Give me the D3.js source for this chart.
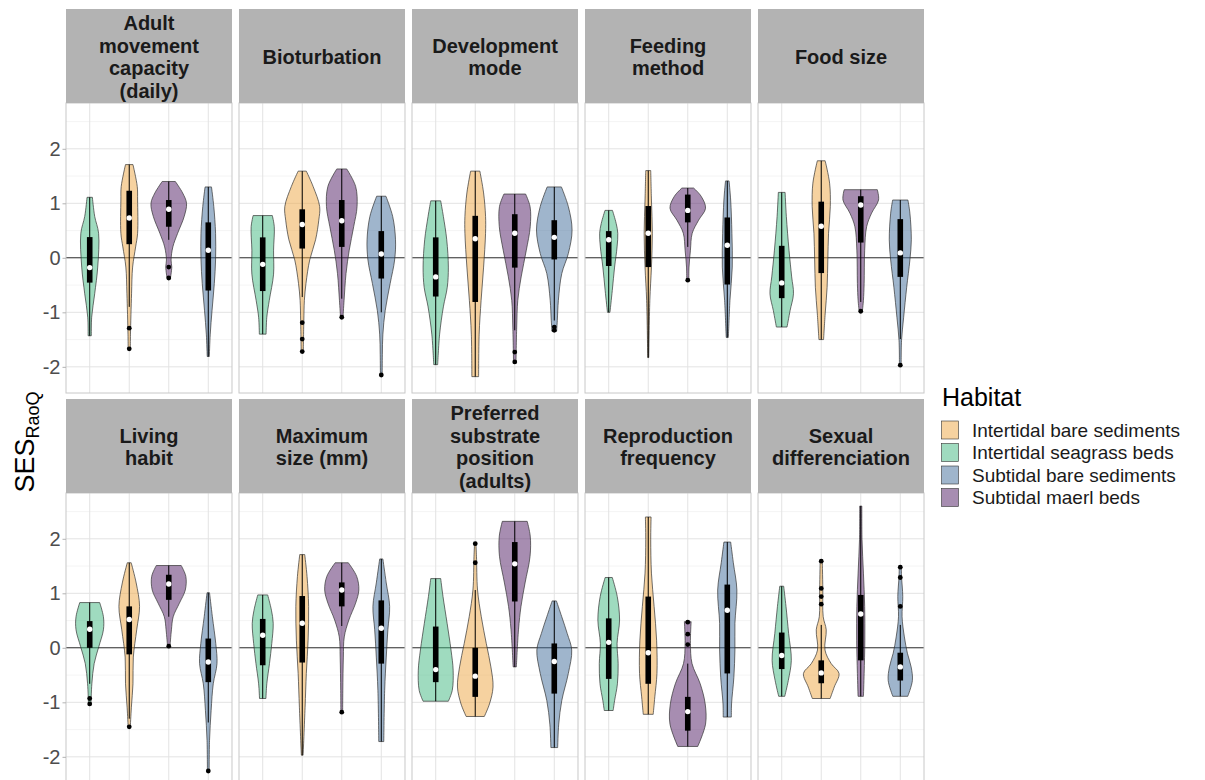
<!DOCTYPE html>
<html><head><meta charset="utf-8">
<script src="https://cdn.jsdelivr.net/npm/d3@7"></script>
<style>
body{margin:0;background:#fff;}
text{font-family:"Liberation Sans",Arial,Helvetica,sans-serif;}
</style>
</head><body>
<svg id="chart" width="1205" height="780"></svg>
<script>
// ---------------- DATA ----------------
const habitats = ["Intertidal bare sediments","Intertidal seagrass beds","Subtidal bare sediments","Subtidal maerl beds"]; // legend order
const plotOrder = ["Intertidal seagrass beds","Intertidal bare sediments","Subtidal maerl beds","Subtidal bare sediments"]; // x order
const habitatColors = ["#EDA541","#3FB77F","#3F6B99","#4F1B63"]; // drawn at 50% opacity
const traitLabels = [
  ["Adult","movement","capacity","(daily)"],
  ["Bioturbation"],
  ["Development","mode"],
  ["Feeding","method"],
  ["Food size"],
  ["Living","habit"],
  ["Maximum","size (mm)"],
  ["Preferred","substrate","position","(adults)"],
  ["Reproduction","frequency"],
  ["Sexual","differenciation"]
];
const yTicks = [-2,-1,0,1,2];
const yTickLabels = ["-2","-1","0","1","2"];
const yMinorTicks = [-1.5,-0.5,0.5,1.5,2.5];
const yDomain = [-2.48, 2.84];

// shape: [value, relative density width] from top to bottom
// box: [lower whisker, Q1, median, Q3, upper whisker]; out: outliers
const adultMovement = [
 {habitat:"Intertidal seagrass beds", shape:[[1.11,0.15],[0.76,0.28],[0.45,0.50],[-0.17,0.45],[-0.66,0.28],[-1.09,0.11],[-1.43,0.09]], box:[-1.43,-0.455,-0.18,0.38,1.11], out:[]},
 {habitat:"Intertidal bare sediments", shape:[[1.71,0.21],[1.31,0.45],[1.06,0.47],[0.45,0.47],[0.2,0.36],[-0.17,0.19],[-0.66,0.13],[-1.4,0.07],[-1.67,0.06]], box:[-0.9,0.25,0.73,1.23,1.71], out:[-1.29,-1.67]},
 {habitat:"Subtidal maerl beds", shape:[[1.40,0.37],[1.19,0.78],[1.0,1.0],[0.76,0.87],[0.45,0.5],[0.2,0.23],[-0.04,0.13],[-0.17,0.17],[-0.38,0.09]], box:[0.33,0.57,0.89,1.06,1.40], out:[-0.17,-0.37]},
 {habitat:"Subtidal bare sediments", shape:[[1.30,0.18],[0.94,0.31],[0.45,0.41],[-0.04,0.41],[-0.47,0.34],[-0.97,0.21],[-1.4,0.11],[-1.81,0.06]], box:[-1.81,-0.6,0.14,0.65,1.30], out:[]}
];
const bioturbation = [
 {habitat:"Intertidal seagrass beds", shape:[[0.775,0.54],[0.57,0.65],[0.14,0.61],[-0.3,0.61],[-0.78,0.37],[-1.09,0.23],[-1.40,0.19]], box:[-1.40,-0.61,-0.12,0.375,0.775], out:[]},
 {habitat:"Intertidal bare sediments", shape:[[1.59,0.23],[1.31,0.61],[0.94,0.98],[0.69,0.93],[0.33,0.75],[-0.04,0.42],[-0.47,0.21],[-0.78,0.12],[-1.15,0.09],[-1.72,0.06]], box:[-0.72,0.17,0.61,0.89,1.59], out:[-1.19,-1.49,-1.72]},
 {habitat:"Subtidal maerl beds", shape:[[1.63,0.28],[1.31,0.78],[0.94,0.86],[0.57,0.67],[0.14,0.42],[-0.29,0.24],[-0.78,0.13],[-1.09,0.07]], box:[-0.75,0.2,0.68,1.06,1.63], out:[-1.09]},
 {habitat:"Subtidal bare sediments", shape:[[1.13,0.26],[0.76,0.64],[0.33,0.8],[-0.04,0.75],[-0.47,0.5],[-0.97,0.22],[-1.4,0.09],[-1.77,0.06],[-2.15,0.05]], box:[-1.0,-0.38,0.07,0.49,1.13], out:[-2.15]}
];
const developmentMode = [
 {habitat:"Intertidal seagrass beds", shape:[[1.045,0.28],[0.76,0.43],[0.33,0.62],[-0.17,0.71],[-0.54,0.65],[-0.9,0.43],[-1.4,0.22],[-1.96,0.11]], box:[-1.96,-0.71,-0.35,0.375,1.045], out:[]},
 {habitat:"Intertidal bare sediments", shape:[[1.59,0.26],[1.19,0.47],[0.76,0.58],[0.45,0.58],[-0.17,0.47],[-0.78,0.33],[-1.4,0.22],[-2.18,0.19]], box:[-2.18,-0.81,0.35,0.77,1.59], out:[]},
 {habitat:"Subtidal maerl beds", shape:[[1.17,0.61],[0.94,0.86],[0.57,0.87],[0.14,0.65],[-0.35,0.36],[-0.78,0.17],[-1.27,0.11],[-1.91,0.07]], box:[-1.33,-0.18,0.45,0.8,1.17], out:[-1.73,-1.91]},
 {habitat:"Subtidal bare sediments", shape:[[1.30,0.4],[0.94,0.79],[0.51,1.0],[0.08,0.79],[-0.29,0.42],[-0.78,0.23],[-1.15,0.17],[-1.35,0.13]], box:[-1.15,-0.03,0.375,0.69,1.30], out:[-1.27,-1.33]}
];
const feedingMethod = [
 {habitat:"Intertidal seagrass beds", shape:[[0.87,0.21],[0.63,0.42],[0.45,0.51],[0.2,0.47],[-0.17,0.33],[-0.6,0.2],[-1.0,0.07]], box:[-1.0,-0.15,0.33,0.49,0.87], out:[]},
 {habitat:"Intertidal bare sediments", shape:[[1.6,0.14],[1.06,0.18],[0.45,0.23],[-0.17,0.18],[-0.78,0.09],[-1.83,0.03]], box:[-1.83,-0.17,0.45,0.95,1.6], out:[]},
 {habitat:"Subtidal maerl beds", shape:[[1.28,0.33],[1.13,0.75],[0.91,1.0],[0.69,0.61],[0.45,0.25],[0.14,0.15],[-0.17,0.07],[-0.41,0.06]], box:[0.2,0.65,0.87,1.16,1.28], out:[-0.41]},
 {habitat:"Subtidal bare sediments", shape:[[1.41,0.1],[1.06,0.19],[0.45,0.26],[-0.17,0.28],[-0.78,0.15],[-1.46,0.06]], box:[-1.46,-0.49,0.23,0.74,1.41], out:[]}
];
const foodSize = [
 {habitat:"Intertidal seagrass beds", shape:[[1.2,0.19],[0.76,0.26],[0.14,0.41],[-0.35,0.56],[-0.66,0.66],[-0.97,0.47],[-1.27,0.3]], box:[-1.27,-0.74,-0.46,0.22,1.2], out:[]},
 {habitat:"Intertidal bare sediments", shape:[[1.78,0.22],[1.37,0.47],[0.94,0.51],[0.45,0.41],[-0.04,0.37],[-0.54,0.33],[-1.03,0.22],[-1.5,0.13]], box:[-1.5,-0.28,0.58,1.03,1.78], out:[]},
 {habitat:"Subtidal maerl beds", shape:[[1.25,0.93],[1.06,1.0],[0.82,0.61],[0.57,0.33],[0.14,0.22],[-0.47,0.19],[-0.78,0.15],[-0.98,0.09]], box:[-0.81,0.28,0.97,1.13,1.25], out:[-0.98]},
 {habitat:"Subtidal bare sediments", shape:[[1.06,0.43],[0.82,0.54],[0.33,0.62],[-0.04,0.54],[-0.54,0.36],[-1.09,0.19],[-1.52,0.07],[-1.97,0.05]], box:[-1.49,-0.35,0.09,0.71,1.06], out:[-1.97]}
];
const livingHabit = [
 {habitat:"Intertidal seagrass beds", shape:[[0.83,0.56],[0.57,0.77],[0.33,0.77],[0.02,0.51],[-0.29,0.25],[-0.66,0.12],[-1.03,0.07]], box:[-0.66,0.0,0.34,0.49,0.83], out:[-0.93,-1.03]},
 {habitat:"Intertidal bare sediments", shape:[[1.56,0.11],[1.19,0.39],[0.76,0.58],[0.33,0.42],[-0.17,0.23],[-0.66,0.21],[-1.09,0.12],[-1.45,0.06]], box:[-1.3,-0.12,0.52,0.76,1.56], out:[-1.45]},
 {habitat:"Subtidal maerl beds", shape:[[1.51,0.7],[1.31,0.96],[1.06,0.93],[0.82,0.6],[0.57,0.25],[0.33,0.15],[0.03,0.07]], box:[0.57,0.88,1.17,1.34,1.51], out:[0.03]},
 {habitat:"Subtidal bare sediments", shape:[[1.01,0.07],[0.57,0.23],[0.08,0.42],[-0.29,0.49],[-0.66,0.28],[-1.15,0.16],[-1.7,0.07],[-2.26,0.05]], box:[-1.37,-0.63,-0.26,0.17,1.01], out:[-2.26]}
];
const maximumSize = [
 {habitat:"Intertidal seagrass beds", shape:[[0.97,0.28],[0.69,0.49],[0.45,0.59],[0.08,0.51],[-0.29,0.38],[-0.66,0.23],[-0.93,0.18]], box:[-0.93,-0.32,0.23,0.53,0.97], out:[]},
 {habitat:"Intertidal bare sediments", shape:[[1.71,0.14],[1.31,0.27],[0.76,0.36],[0.14,0.33],[-0.47,0.23],[-1.09,0.16],[-1.97,0.05]], box:[-1.97,-0.27,0.45,0.95,1.71], out:[]},
 {habitat:"Subtidal maerl beds", shape:[[1.56,0.37],[1.31,0.84],[1.06,0.96],[0.82,0.78],[0.51,0.4],[0.2,0.14],[-0.17,0.09],[-0.78,0.06],[-1.18,0.05]], box:[0.4,0.76,1.06,1.2,1.56], out:[-1.18]},
 {habitat:"Subtidal bare sediments", shape:[[1.63,0.09],[1.19,0.28],[0.76,0.47],[0.33,0.37],[-0.17,0.28],[-0.78,0.19],[-1.72,0.14]], box:[-1.72,-0.29,0.36,0.87,1.63], out:[]}
];
const substratePosition = [
 {habitat:"Intertidal seagrass beds", shape:[[1.27,0.28],[0.94,0.41],[0.45,0.64],[-0.04,0.86],[-0.41,0.98],[-0.78,0.93],[-0.98,0.71]], box:[-0.98,-0.63,-0.4,0.39,1.27], out:[]},
 {habitat:"Intertidal bare sediments", shape:[[1.91,0.04],[1.68,0.07],[1.06,0.13],[0.57,0.34],[0.08,0.62],[-0.35,0.88],[-0.72,1.0],[-1.03,0.8],[-1.26,0.51]], box:[-1.26,-0.9,-0.52,0.0,1.06], out:[1.56,1.91]},
 {habitat:"Subtidal maerl beds", shape:[[2.32,0.7],[2.05,0.87],[1.68,0.86],[1.19,0.58],[0.76,0.35],[0.33,0.21],[-0.35,0.09]], box:[-0.35,0.85,1.54,1.94,2.32], out:[]},
 {habitat:"Subtidal bare sediments", shape:[[0.86,0.12],[0.57,0.42],[0.26,0.73],[-0.04,0.98],[-0.47,0.79],[-0.97,0.42],[-1.4,0.25],[-1.83,0.19]], box:[-1.83,-0.84,-0.25,0.08,0.86], out:[]}
];
const reproductionFrequency = [
 {habitat:"Intertidal seagrass beds", shape:[[1.29,0.2],[0.94,0.48],[0.51,0.61],[0.08,0.47],[-0.29,0.53],[-0.66,0.49],[-0.97,0.33],[-1.15,0.25]], box:[-1.15,-0.57,0.1,0.54,1.29], out:[]},
 {habitat:"Intertidal bare sediments", shape:[[2.4,0.16],[1.99,0.14],[1.37,0.18],[0.76,0.33],[0.14,0.47],[-0.47,0.49],[-0.9,0.37],[-1.22,0.28]], box:[-1.22,-0.66,-0.09,0.94,2.4], out:[]},
 {habitat:"Subtidal maerl beds", shape:[[0.48,0.19],[0.08,0.15],[-0.29,0.24],[-0.66,0.7],[-1.03,0.98],[-1.4,1.0],[-1.81,0.56]], box:[-1.81,-1.52,-1.17,-0.9,-0.29], out:[0.47,0.25,0.06]},
 {habitat:"Subtidal bare sediments", shape:[[1.94,0.19],[1.56,0.34],[1.06,0.54],[0.45,0.43],[-0.04,0.43],[-0.54,0.37],[-1.03,0.24],[-1.27,0.23]], box:[-1.27,-0.47,0.69,1.16,1.94], out:[]}
];
const sexualDifferenciation = [
 {habitat:"Intertidal seagrass beds", shape:[[1.13,0.11],[0.76,0.24],[0.26,0.39],[-0.23,0.54],[-0.6,0.37],[-0.89,0.17]], box:[-0.89,-0.39,-0.14,0.28,1.13], out:[]},
 {habitat:"Intertidal bare sediments", shape:[[1.6,0.06],[1.43,0.07],[1.06,0.09],[0.57,0.11],[0.33,0.28],[-0.04,0.21],[-0.29,0.56],[-0.47,1.0],[-0.72,0.73],[-0.93,0.5]], box:[-0.93,-0.65,-0.46,-0.23,0.42], out:[1.59,1.09,0.94,0.8]},
 {habitat:"Subtidal maerl beds", shape:[[2.6,0.06],[1.99,0.07],[1.37,0.15],[0.76,0.22],[0.14,0.23],[-0.47,0.19],[-0.89,0.15]], box:[-0.89,-0.23,0.62,0.97,2.6], out:[]},
 {habitat:"Subtidal bare sediments", shape:[[1.48,0.06],[1.31,0.07],[0.94,0.14],[0.57,0.1],[0.2,0.23],[-0.1,0.4],[-0.35,0.61],[-0.6,0.68],[-0.89,0.42]], box:[-0.89,-0.6,-0.35,-0.09,0.42], out:[1.48,1.29,0.76]}
];
const traitData = [adultMovement, bioturbation, developmentMode, feedingMethod, foodSize,
                   livingHabit, maximumSize, substratePosition, reproductionFrequency, sexualDifferenciation];

// ---------------- DRAW ----------------
const svg = d3.select("#chart");
const color = d3.scaleOrdinal().domain(habitats).range(habitatColors);

const colScale = d3.scaleBand().domain(d3.range(5)).range([66, 924]).paddingInner(0.0405);
const rowStripTop = [9, 399];
const stripH = 94, panelH = 290;
const pw = colScale.bandwidth();

traitData.forEach((violins, i) => {
  const col = i % 5, row = Math.floor(i / 5);
  const x0 = colScale(col);
  const stripTop = rowStripTop[row];
  const pTop = stripTop + stripH;
  const y = d3.scaleLinear().domain(yDomain).range([pTop + panelH, pTop]);
  const x = d3.scalePoint().domain(plotOrder).range([x0, x0 + pw]).padding(0.6);
  const halfW = d3.scaleLinear().domain([0, 1]).range([0, 0.45 * x.step()]);

  const g = svg.append("g");
  g.append("rect").attr("x", x0).attr("y", pTop).attr("width", pw).attr("height", panelH).attr("fill", "#fff");
  // minor grid
  g.selectAll(".ymin").data(yMinorTicks.filter(v => v >= yDomain[0] && v <= yDomain[1])).join("line")
    .attr("x1", x0).attr("x2", x0 + pw).attr("y1", d => y(d)).attr("y2", d => y(d))
    .attr("stroke", "#f1f1f1").attr("stroke-width", 0.8);
  // major grid
  g.selectAll(".ymaj").data(yTicks).join("line")
    .attr("x1", x0).attr("x2", x0 + pw).attr("y1", d => y(d)).attr("y2", d => y(d))
    .attr("stroke", "#e3e3e3").attr("stroke-width", 1);
  g.selectAll(".xmaj").data(plotOrder).join("line")
    .attr("x1", d => x(d)).attr("x2", d => x(d)).attr("y1", pTop).attr("y2", pTop + panelH)
    .attr("stroke", "#e3e3e3").attr("stroke-width", 1);
  // zero line
  g.append("line").attr("x1", x0).attr("x2", x0 + pw).attr("y1", y(0)).attr("y2", y(0))
    .attr("stroke", "#333").attr("stroke-width", 1.1);

  violins.forEach(v => {
    const cx = x(v.habitat);
    const area = d3.area()
      .y(d => y(d[0]))
      .x0(d => cx - halfW(d[1]))
      .x1(d => cx + halfW(d[1]))
      .curve(d3.curveCatmullRom.alpha(0.5));
    g.append("path").attr("d", area(v.shape))
      .attr("fill", color(v.habitat)).attr("fill-opacity", 0.5)
      .attr("stroke", "#333").attr("stroke-width", 0.7);
    const [lo, q1, med, q3, hi] = v.box;
    g.append("line").attr("x1", cx).attr("x2", cx).attr("y1", y(hi)).attr("y2", y(lo))
      .attr("stroke", "#000").attr("stroke-width", 1);
    g.append("rect").attr("x", cx - 2.8).attr("width", 5.6)
      .attr("y", y(q3)).attr("height", y(q1) - y(q3)).attr("fill", "#000");
    g.selectAll(null).data(v.out).join("circle")
      .attr("cx", cx).attr("cy", d => y(d)).attr("r", 2.4).attr("fill", "#000");
    g.append("circle").attr("cx", cx).attr("cy", y(med)).attr("r", 2.7).attr("fill", "#fff");
  });

  // panel border
  g.append("rect").attr("x", x0).attr("y", pTop).attr("width", pw).attr("height", panelH)
    .attr("fill", "none").attr("stroke", "#c8c8c8").attr("stroke-width", 1);
  // strip
  g.append("rect").attr("x", x0).attr("y", stripTop).attr("width", pw).attr("height", stripH)
    .attr("fill", "#b3b3b3");
  const lines = traitLabels[i];
  const lh = 22.4;
  const cy = stripTop + stripH / 2 + 1;
  g.append("text").attr("x", x0 + pw / 2).attr("text-anchor", "middle")
    .attr("font-size", 20).attr("font-weight", "bold").attr("fill", "#1a1a1a")
    .selectAll("tspan").data(lines).join("tspan")
    .attr("x", x0 + pw / 2)
    .attr("y", (d, k) => cy + (k - (lines.length - 1) / 2) * lh)
    .attr("dominant-baseline", "central")
    .text(d => d);

  // y axis on first column
  if (col === 0) {
    const ax = svg.append("g").attr("transform", `translate(${x0},0)`)
      .call(d3.axisLeft(y).tickValues(yTicks).tickSize(3.5).tickPadding(2)
        .tickFormat((d, k) => yTickLabels[k]));
    ax.select(".domain").remove();
    ax.selectAll(".tick line").attr("stroke", "#b3b3b3");
    ax.selectAll(".tick text").attr("fill", "#4d4d4d").attr("font-size", 20)
      .attr("font-family", "Liberation Sans, Arial, sans-serif");
  }
});

// y-axis title
const yt = svg.append("text").attr("transform", "translate(34,442) rotate(-90)")
  .attr("text-anchor", "middle").attr("fill", "#000").attr("font-size", 27);
yt.append("tspan").text("SES");
yt.append("tspan").attr("font-size", 18).attr("dy", 5).text("RaoQ");

// legend
const lg = svg.append("g");
lg.append("text").attr("x", 942).attr("y", 406).attr("font-size", 25).attr("fill", "#000").text("Habitat");
const keyY = d3.scaleBand().domain(habitats).range([421, 506.5]).paddingInner(0.2);
habitats.forEach(h => {
  lg.append("rect").attr("x", 941.5).attr("y", keyY(h)).attr("width", 17).attr("height", keyY.bandwidth())
    .attr("fill", color(h)).attr("fill-opacity", 0.5).attr("stroke", "#333").attr("stroke-width", 0.6);
  lg.append("text").attr("x", 972).attr("y", keyY(h) + keyY.bandwidth() / 2)
    .attr("dominant-baseline", "central").attr("font-size", 19).attr("fill", "#1a1a1a").text(h);
});
</script>
</body></html>
